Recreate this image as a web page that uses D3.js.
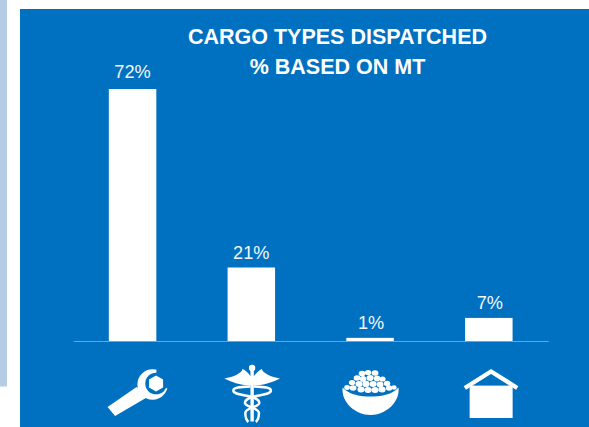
<!DOCTYPE html>
<html><head><meta charset="utf-8">
<script src="https://cdn.jsdelivr.net/npm/d3@7/dist/d3.min.js"></script>
<style>html,body{margin:0;padding:0;background:#fff;overflow:hidden}svg{display:block}text{font-family:"Liberation Sans",Arial,sans-serif}</style>
</head><body><svg id="c" width="589" height="427"></svg>
<script>
const categories = ["Tools", "Medical", "Food", "Shelter"];
const values = [72, 21, 0.9, 6.6];
const titleLines = ["CARGO TYPES DISPATCHED", "% BASED ON MT"];

const BLUE = "#0070c0";
const svg = d3.select("#c");
svg.append("rect").attr("x",0).attr("y",0).attr("width",7).attr("height",386.5).attr("fill","#b4cde4");
svg.append("rect").attr("x",20).attr("y",9).attr("width",569).attr("height",418).attr("fill",BLUE);

const x = d3.scaleBand().domain(categories).range([73.2,548.2]).paddingInner(0.6).paddingOuter(0.3);
const y = d3.scaleLinear().domain([0,72]).range([341,89]);

svg.append("g").selectAll("text").data(titleLines).join("text")
  .attr("x",337.5).attr("y",(d,i)=>43.5+i*30).attr("text-anchor","middle")
  .attr("font-size",21.5).attr("font-weight","bold").attr("fill","#fff").text(d=>d);

svg.append("g").selectAll("rect").data(values).join("rect")
  .attr("x",(d,i)=>x(categories[i])).attr("width",x.bandwidth())
  .attr("y",d=>y(d)).attr("height",d=>y(0)-y(d)).attr("fill","#fff");

svg.append("g").selectAll("text").data(values).join("text")
  .attr("x",(d,i)=>x(categories[i])+x.bandwidth()/2+(d<10?1:0)).attr("y",d=>y(d)-(d>50?11:8.5))
  .attr("text-anchor","middle").attr("font-size",18.2).attr("fill","#f2f7fb").text(d=>d3.format(".0f")(d)+"%");

svg.append("g").attr("transform","translate(0,341)")
  .call(d3.axisBottom(x).tickSize(0).tickFormat(""))
  .call(g=>g.select(".domain").attr("stroke","#8e9bab").attr("stroke-width",1.2));

const icon = categories.map(c=>svg.append("g").attr("transform",`translate(${x(c)+x.bandwidth()/2},0)`).attr("fill","#fff"));

// wrench
const c0 = icon[0];
c0.append("path").attr("d","M-25,407 L-17.5,416 L15,397 L4,387 Z");
c0.append("circle").attr("cx",20).attr("cy",384.5).attr("r",15.2);
c0.append("circle").attr("cx",23.5).attr("cy",383.5).attr("r",10.8).attr("fill",BLUE);
c0.append("path").attr("d","M23.5,383.5 L24,366 L42,366 L42,391 L33.5,388 Z").attr("fill",BLUE);
c0.append("path").attr("d","M23.5,375.5 L30.5,379.5 L30.5,387.5 L23.5,391.5 L16.5,387.5 L16.5,379.5 Z");

// caduceus
const c1 = icon[1];
c1.append("circle").attr("cx",0.8).attr("cy",368).attr("r",3.2);
c1.append("rect").attr("x",-0.9).attr("y",370).attr("width",3.4).attr("height",51.5);
c1.append("path").attr("d","M-1,376 C-3,373 -6,370 -9,369 C-9,373 -18,377 -27,378.5 C-20,382 -12,385 -1,385.5 L2.6,385.5 C14,385 22,382 28.6,378.5 C20,377 11,373 10.6,369 C8,370 5,373 2.6,376 Z");
c1.append("path").attr("d","M-1,386.5 C-14,387 -18,388 -18,390.5 C-18,394 -10,394.5 -3,396 C3,397.5 8,399 8,403 C8,407 -6,407.5 -6,413 C-6,417 -5,420 -3,422 M2.6,386.5 C15.6,387 19.6,388 19.6,390.5 C19.6,394 11.6,394.5 4.6,396 C-1.4,397.5 -6.4,399 -6.4,403 C-6.4,407 7.6,407.5 7.6,413 C7.6,417 6.6,420 4.6,422")
  .attr("fill","none").attr("stroke","#fff").attr("stroke-width",2.5);

// bowl
const c2 = icon[2];
const grains = [[-8,373.5,3.4,2.8],[-2,372.5,3.2,2.6],[5,373,3.4,2.8],
  [-13,378,3.4,2.8],[-7,379,3.2,3],[0,378,3.6,3],[7,378.5,3.2,3],[12.5,379,3,2.6],
  [-18,382.5,3.2,2.6],[-11,384,3.6,3],[-4,384,3.4,3.2],[3,384,3.6,3],[10,384.5,3.4,3],[17,383.5,3.2,2.8],
  [-23,387.5,2.8,2.4],[-17,388,3.4,2.8],[-9,389.5,3.6,3],[-2,390,3.6,3],[5,390,3.6,3],[12,389.5,3.6,3],[19,388,3.2,2.8],[24,387.5,2.6,2.2]];
c2.selectAll("ellipse").data(grains).join("ellipse").attr("cx",d=>d[0]).attr("cy",d=>d[1]).attr("rx",d=>d[2]).attr("ry",d=>d[3]);
c2.append("path").attr("d","M-27.5,387.5 C-29,402 -15,415 0.5,415 C16,415 30,402 28.5,387.5 C22,395 10,396.5 0.5,396.5 C-9,396.5 -21,395 -27.5,387.5 Z");

// house
const c3 = icon[3];
c3.append("path").attr("d","M-24,388 L2.2,371.5 L28.4,388").attr("fill","none").attr("stroke","#fff").attr("stroke-width",4.4);
c3.append("rect").attr("x",-19.2).attr("y",385.5).attr("width",43).attr("height",32.5);
c3.append("path").attr("d","M-15,385.3 L2.2,374.5 L19.4,385.3 Z").attr("fill",BLUE);
</script></body></html>
